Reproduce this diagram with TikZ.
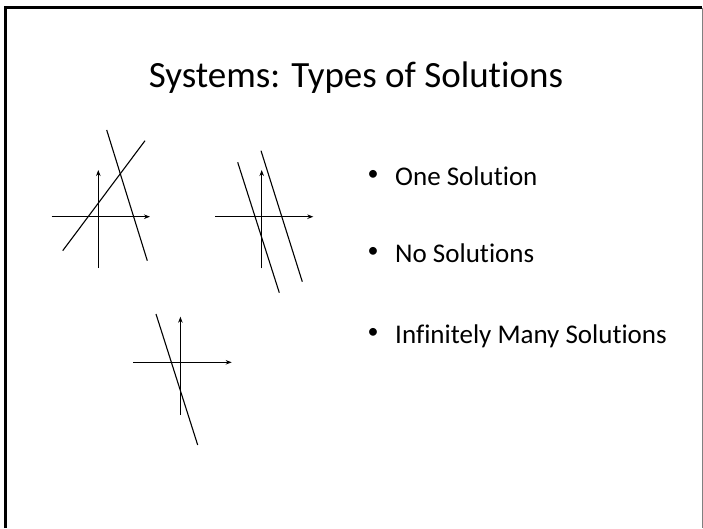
\documentclass[tikz,border=0pt]{standalone}
\usepackage{fontspec}
\setmainfont{Carlito}[Ligatures=NoCommon]
\usepackage{tikz}
\usetikzlibrary{arrows.meta, positioning}

\begin{document}
\begin{tikzpicture}[x=1pt, y=-1pt,
  axis/.style={line width=1.1pt, -{Stealth[length=6pt, width=4.5pt]}},
  soln/.style={line width=1.1pt},
  item/.style={anchor=base west, inner sep=0pt, font=\fontsize{27}{33}\selectfont}]
  \useasboundingbox (0,0) rectangle (703,528);
  % Frame
  \draw[line width=3pt] (5.5,528) -- (5.5,7.5) -- (702,7.5);
  \draw[gray, line width=1pt] (702,7.5) -- (702,528);
  % Title
  \node[anchor=base, inner sep=0pt, font=\fontsize{37}{44}\selectfont] (title) at (356,87) {Systems: Types of Solutions};
  % Bullets
  \foreach \i/\t/\y in {1/One Solution/185, 2/No Solutions/262, 3/Infinitely Many Solutions/343} {
    \node[anchor=center, inner sep=0pt, font=\fontsize{22}{26}\selectfont] (dot\i) at (373,\y-10) {\textbullet};
    \node[item] (txt\i) at (395,\y) {\t};
  }
  % One solution
  \draw[axis] (51.7,216.7) -- (150,216.7);
  \draw[axis] (98.3,268) -- (98.3,170);
  \draw[soln] (62.7,250.7) -- (145,140.7);
  \draw[soln] (106.7,130) -- (147.3,260.7);
  % No solutions
  \draw[axis] (215,216.7) -- (313.3,216.7);
  \draw[axis] (261.7,268.3) -- (261.7,170);
  \draw[soln] (237.7,162.3) -- (279.3,292.7);
  \draw[soln] (261,150.7) -- (302.3,281.7);
  % Infinitely many
  \draw[axis] (133.3,362.3) -- (231.7,362.3);
  \draw[axis] (180.4,415) -- (180.4,316.7);
  \draw[soln] (156,314) -- (197.7,445);
\end{tikzpicture}
\end{document}
